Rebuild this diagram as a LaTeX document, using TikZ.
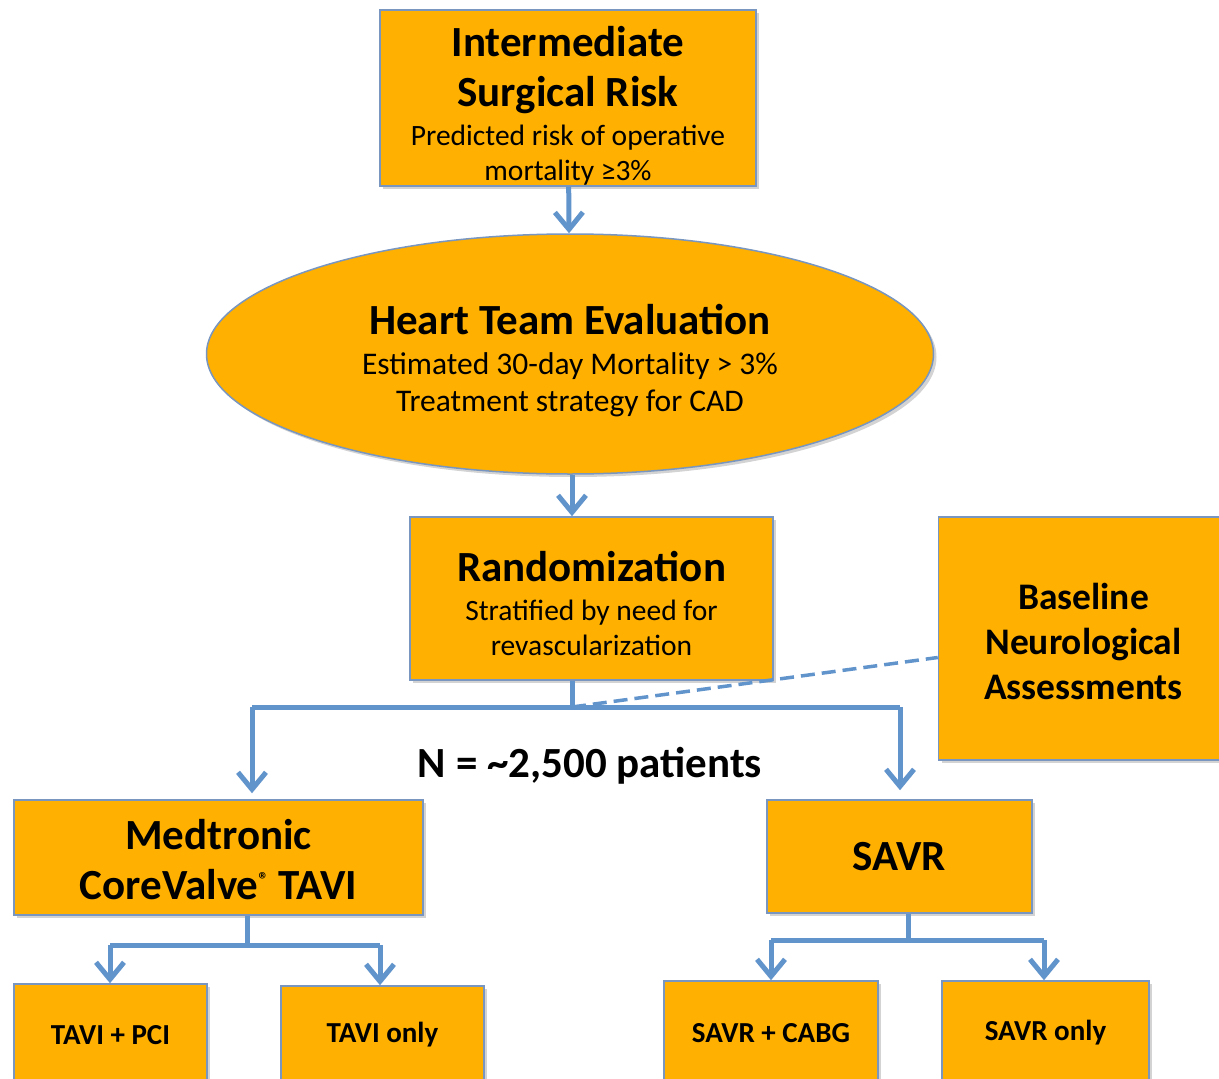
\documentclass[tikz,border=0pt]{standalone}
\usepackage{fontspec}
\setmainfont{Carlito}
\usetikzlibrary{arrows.meta, shapes.geometric, shadows}
\definecolor{boxfill}{RGB}{255,176,0}
\definecolor{boxline}{RGB}{120,150,192}
\definecolor{linkblue}{RGB}{98,148,204}
\newcommand\Mid{\spaceskip=0pt\xspaceskip=0pt\leftskip=0pt plus 1fil\rightskip=0pt plus 1fil\parfillskip=0pt}
\newcommand\HdFont{\fontsize{43}{50}\selectfont\bfseries\Mid}
\newcommand\SubFont{\fontsize{29.5}{35}\selectfont\Mid}
\newcommand\EllSubFont{\fontsize{31.5}{37}\selectfont\Mid}
\newcommand\SideFont{\fontsize{37.5}{45}\selectfont\bfseries\Mid}
\newcommand\LeafFont{\fontsize{29}{34}\selectfont\bfseries}
\newcommand\TopPad[1]{\rule{0pt}{#1}}
\tikzset{
  box/.style={
    draw=boxline,
    line width=1.5pt,
    fill=boxfill,
    drop shadow={shadow xshift=3pt, shadow yshift=-3pt, opacity=0.35},
    inner sep=0pt,
    align=center
  },
  link/.style={
    draw=linkblue,
    line width=5pt
  },
  linkarrow/.style={
    link,
    -{Straight Barb[length=17pt, width=28pt]}
  }
}

\begin{document}
\begin{tikzpicture}[x=1pt, y=-1pt]
\useasboundingbox (0,0) rectangle (1219,1079);

\node[box, minimum width=376pt, minimum height=176pt, text width=370pt] (top) at (568,98)
  {{\HdFont \TopPad{46pt}Intermediate\\Surgical Risk\par}\vspace{4pt}{\SubFont Predicted risk of operative\\mortality ≥3\%\par}};
\node[box, ellipse, minimum width=727pt, minimum height=240pt, text width=450pt] (heart) at (570,354)
  {{\HdFont \TopPad{44pt}Heart Team Evaluation\par}\vspace{3pt}{\EllSubFont Estimated 30-day Mortality > 3\%\\Treatment strategy for CAD\par}};
\node[box, minimum width=363pt, minimum height=163pt, text width=355pt] (rand) at (591.5,598.5)
  {{\HdFont \TopPad{40pt}Randomization\par}\vspace{4pt}{\SubFont Stratified by need for\\revascularization\par}};
\node[box, minimum width=283pt, minimum height=243pt, text width=290pt] (base) at (1083.5,638.5)
  {{\SideFont \TopPad{32pt}Baseline\\Neurological\\Assessments\par}};

\node[font=\HdFont] (ncount) at (590,766) {N = \textasciitilde 2,500 patients};

\node[box, minimum width=409pt, minimum height=115pt, text width=400pt] (med) at (218.5,857.5)
  {{\HdFont \TopPad{34pt}Medtronic\\CoreValve\raisebox{13pt}{\fontsize{20}{20}\selectfont ®} TAVI\par}};
\node[box, minimum width=265pt, minimum height=113pt, font=\HdFont] (savr) at (899.5,856.5) {SAVR};

\node[box, minimum width=193pt, minimum height=102pt, font=\LeafFont] (tavipci) at (110.5,1035) {TAVI + PCI};
\node[box, minimum width=203pt, minimum height=98pt, font=\LeafFont] (tavionly) at (382.5,1035) {TAVI only};
\node[box, minimum width=214pt, minimum height=104pt, font=\LeafFont] (savrcabg) at (771,1033) {SAVR + CABG};
\node[box, minimum width=207pt, minimum height=104pt, font=\LeafFont] (savronly) at (1045.5,1033) {SAVR only};

% split points
\coordinate (split) at (572,707);
\coordinate (lefttop) at (252,707);
\coordinate (righttop) at (900,707);
\coordinate (medsplit) at (247,945);
\coordinate (medleft) at (110,945);
\coordinate (medright) at (380,945);
\coordinate (savrsplit) at (908,940);
\coordinate (savrleft) at (771,940);
\coordinate (savrright) at (1044,940);

\draw[linkarrow] (top) -- (heart);
\draw[linkarrow] (heart.south -| split) -- (rand.north -| split);
\draw[link] (rand.south -| split) -- (split);
\draw[link] (lefttop) -- (righttop);
\draw[linkarrow] (lefttop) -- ([yshift=6pt]lefttop |- med.north);
\draw[linkarrow] (righttop) -- ([yshift=9pt]righttop |- savr.north);
\draw[link, dashed, line width=3.5pt, dash pattern=on 14pt off 7pt] (split) -- ([yshift=-19pt]base.west);

\draw[link] (med.south -| medsplit) -- (medsplit);
\draw[link] (medleft) -- (medright);
\draw[linkarrow] (medleft) -- (medleft |- tavipci.north);
\draw[linkarrow] (medright) -- (medright |- tavionly.north);

\draw[link] (savr.south -| savrsplit) -- (savrsplit);
\draw[link] (savrleft) -- (savrright);
\draw[linkarrow] (savrleft) -- (savrleft |- savrcabg.north);
\draw[linkarrow] (savrright) -- (savrright |- savronly.north);
\end{tikzpicture}
\end{document}
